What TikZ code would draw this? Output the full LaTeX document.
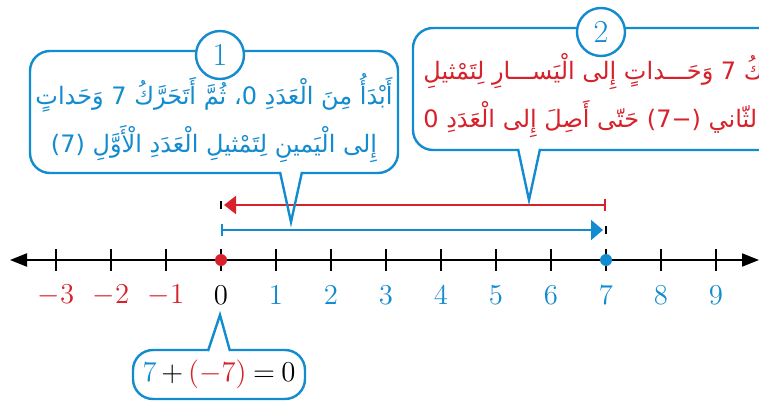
\documentclass[tikz,border=0pt]{standalone}
\usepackage{fontspec}
\usetikzlibrary{arrows.meta,positioning,calc}
\TeXXeTstate=1
\newfontfamily\arabicfont[Script=Arabic]{DejaVu Sans}
\definecolor{stepblue}{HTML}{138BCF}
\definecolor{stepred}{HTML}{D7212B}
\tikzset{
  >=Latex,
  callbox/.style={rectangle, rounded corners=10pt, draw=stepblue, line width=1.2pt, fill=white},
  pointer/.style={draw=stepblue, line width=1.2pt, line join=miter},
  numcircle/.style={circle, draw=stepblue, line width=1.2pt, fill=white, minimum size=24pt,
    inner sep=0pt, font=\fontsize{16}{16}\selectfont, text=stepblue},
  arabtext/.style={font=\arabicfont\fontsize{12}{24}\selectfont, align=center, inner sep=0pt},
  numline/.style={line width=1pt, {Triangle[length=8.5pt,width=6.5pt]}-{Triangle[length=8.5pt,width=6.5pt]}},
  tickmark/.style={line width=1pt},
  numlabel/.style={font=\fontsize{14}{14}\selectfont},
  moveline/.style={line width=1pt},
  endbar/.style={line width=1.3pt}
}

\begin{document}
\begin{tikzpicture}[x=0.5pt,y=-0.5pt]
\useasboundingbox (0,0) rectangle (759,401);
\clip (0,0) rectangle (759,401);
% number line
\coordinate (lineL) at (10,260);
\coordinate (lineR) at (759,260);
\coordinate (zero) at (221,260);
\coordinate (seven) at (606,260);
\draw[numline] (lineL) -- (lineR);
\foreach \i in {-3,...,9}
  \draw[tickmark] ({221+55*\i},249) -- ({221+55*\i},271);
\foreach \i/\c in {-3/stepred,-2/stepred,-1/stepred,0/black,1/stepblue,2/stepblue,3/stepblue,4/stepblue,5/stepblue,6/stepblue,7/stepblue,8/stepblue,9/stepblue}
  \node[numlabel, text=\c] (lab\i) at ({221+55*\i},295) {$\i$};
\fill[stepred] (zero) circle (3pt);
\fill[stepblue] (seven) circle (3pt);
% moves
\coordinate (redfrom) at (606,205);
\coordinate (redto) at (221,205);
\coordinate (bluefrom) at (221,230);
\coordinate (blueto) at (606,230);
\draw[moveline, draw=stepred, fill=stepred, {Bar[width=6pt]}-{Triangle[length=6pt,width=9pt]}, shorten >=1.5pt] (redfrom) -- (redto);
\draw[endbar] ($(redto)+(0,-4)$) -- ($(redto)+(0,4)$);
\draw[moveline, draw=stepblue, fill=stepblue, {Bar[width=6pt]}-{Triangle[length=6pt,width=10pt]}, shorten >=1.5pt] (bluefrom) -- (blueto);
\draw[endbar] ($(blueto)+(0,-4)$) -- ($(blueto)+(0,4)$);
% callout 1
\node[callbox, minimum width=184pt, minimum height=61pt] (box1) at (214,112) {};
\fill[white] (281,168) rectangle (301,176);
\draw[pointer] (280,172) -- (291,222) -- (302,172);
\node[numcircle] (num1) at (220,55) {1};
\node[arabtext, text=stepblue] (text1) at (214,118)
  {\beginR أَبْدَأُ مِنَ الْعَدَدِ 0، ثُمَّ أَتَحَرَّكُ 7 وَحَداتٍ\endR\\
   \beginR إِلى الْيَمينِ لِتَمْثيلِ الْعَدَدِ الْأَوَّلِ (7)\endR};
% callout 2
\node[callbox, minimum width=243.5pt, minimum height=61pt] (box2) at (656.5,89) {};
\fill[white] (519,146) rectangle (539,154);
\draw[pointer] (518,149) -- (529,200) -- (540,149);
\node[numcircle] (num2) at (601,32) {2};
\node[arabtext, text=stepred, align=left, anchor=west] (text2) at (423,95)
  {\beginR ثُمَّ أَتَحَرَّكُ 7 وَحَـــداتٍ إِلى الْيَســـارِ لِتَمْثيلِ\endR\\
   \beginR الْعَدَدِ الثّاني (−7) حَتّى أَصِلَ إِلى الْعَدَدِ 0\endR};
% sum
\node[callbox, minimum width=86pt, minimum height=24.5pt, font=\fontsize{14}{14}\selectfont] (box3) at (219,374.5)
  {$\medmuskip=3mu\thickmuskip=4mu\textcolor{stepblue}{7}+\textcolor{stepred}{(-7)}=0$};
\fill[white] (209,346) rectangle (229,354);
\draw[pointer] (208,351) -- (220,315) -- (230,351);
\end{tikzpicture}
\end{document}
